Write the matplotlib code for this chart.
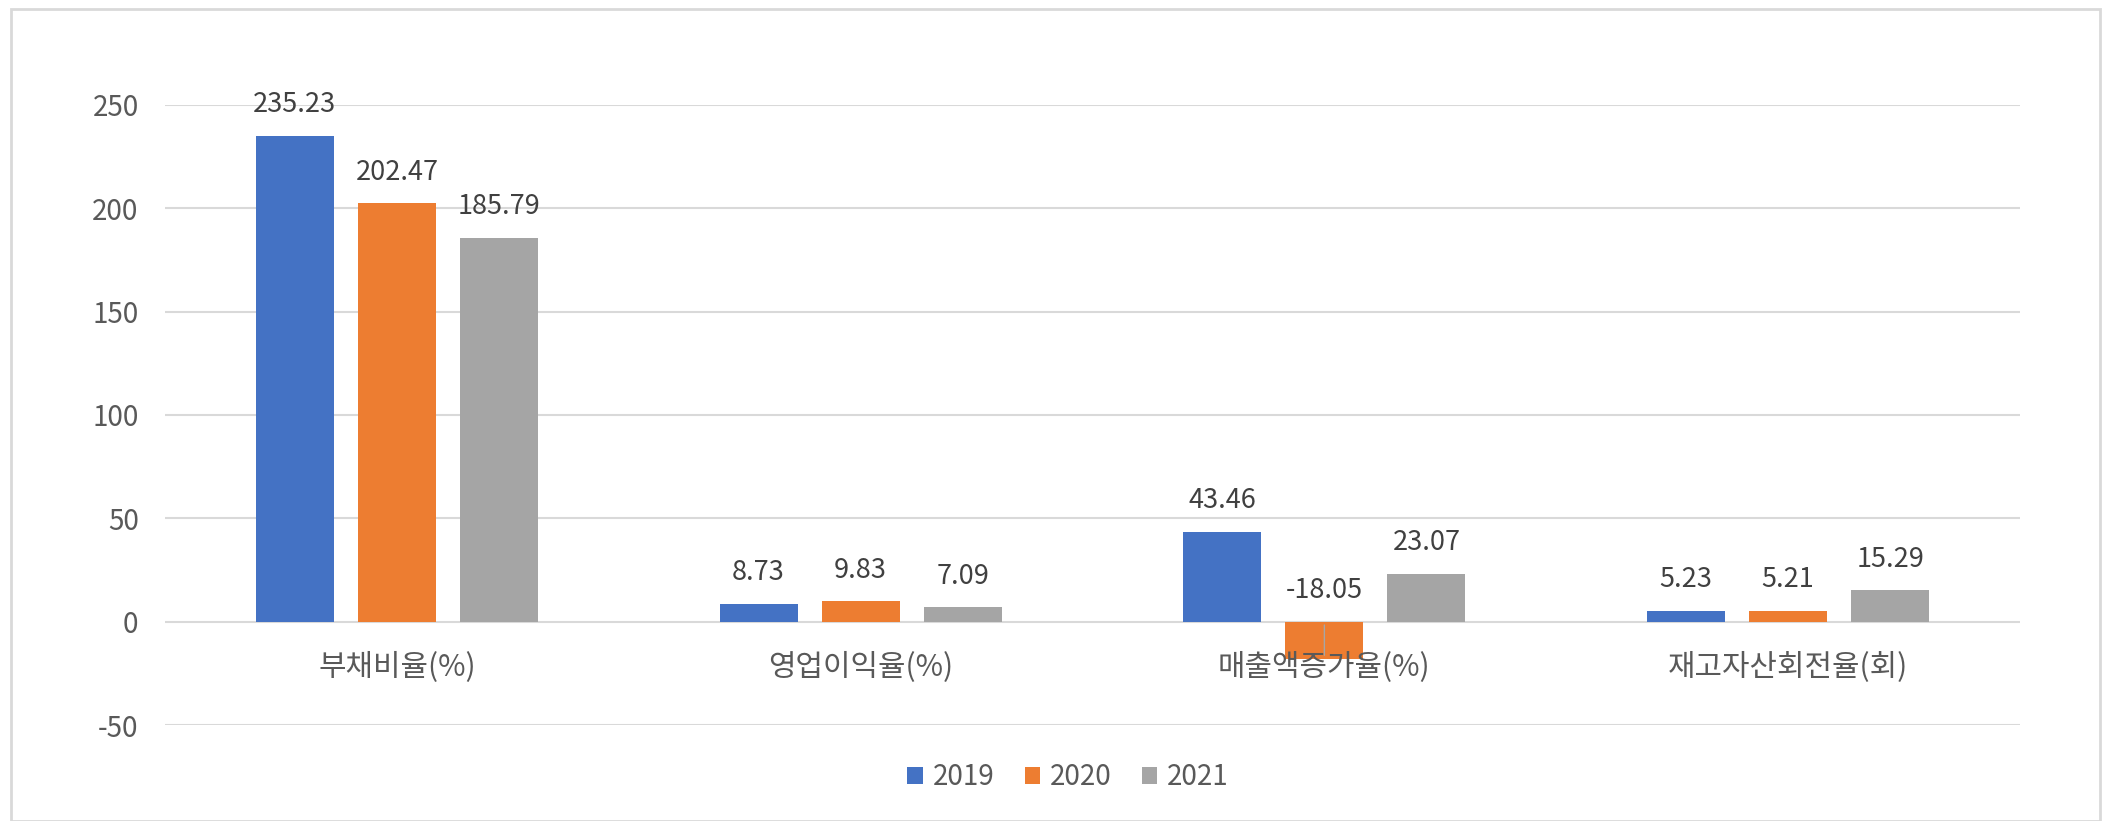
import matplotlib
matplotlib.use("Agg")
import matplotlib.pyplot as plt
from matplotlib.patches import Rectangle
import numpy as np

plt.rcParams['font.family'] = ['Noto Sans CJK KR', 'DejaVu Sans']
plt.rcParams['axes.unicode_minus'] = False

categories = ["부채비율(%)", "영업이익율(%)", "매출액증가율(%)", "재고자산회전율(회)"]
years = ["2019", "2020", "2021"]
v2019 = [235.23, 8.73, 43.46, 5.23]
v2020 = [202.47, 9.83, -18.05, 5.21]
v2021 = [185.79, 7.09, 23.07, 15.29]
colors = ["#4472C4", "#ED7D31", "#A5A5A5"]
yticks = [-50, 0, 50, 100, 150, 200, 250]

txt = "#595959"
grid = "#D9D9D9"

fig = plt.figure(figsize=(21.05, 8.21), dpi=100)
fig.patches.append(Rectangle((11 / 2105, 0), (2100 - 11) / 2105, 1 - 9 / 821,
                             transform=fig.transFigure, fill=False,
                             edgecolor=grid, linewidth=2))

ax = fig.add_axes([165 / 2105, 96 / 821, (2020 - 165) / 2105, (725 - 105) / 821])

x = np.arange(len(categories))
width = 0.168
step = 0.22
for i, (vals, c, yr) in enumerate(zip([v2019, v2020, v2021], colors, years)):
    xs = x + (i - 1) * step
    ax.bar(xs, vals, width, color=c, label=yr, zorder=3)
    for xx, v in zip(xs, vals):
        if v >= 0:
            ax.annotate(f"{v:.2f}", (xx, v), xytext=(0, 31), textcoords="offset pixels",
                        ha="center", va="center", fontsize=19.5, color="#404040")
        else:
            ax.annotate(f"{v:.2f}", (xx, v * 0.9), xytext=(xx, 15),
                        textcoords="data", ha="center", va="center",
                        fontsize=19.5, color="#404040",
                        arrowprops=dict(arrowstyle="-", color="#A6A6A6", lw=1,
                                        shrinkA=13, shrinkB=0))

for xx, name in zip(x, categories):
    ax.annotate(name, (xx, 0), xytext=(0, -46), textcoords="offset pixels",
                ha="center", va="center", fontsize=21.5, color=txt)

ax.set_xlim(-0.5, len(categories) - 0.5)
ax.set_ylim(-50, 250)
ax.set_yticks(yticks)
ax.set_xticks([])
ax.tick_params(axis="y", length=0, pad=19, labelsize=20, labelcolor=txt)
ax.grid(axis="y", color=grid, linewidth=1.5, zorder=0)
for s in ax.spines.values():
    s.set_visible(False)

fig.legend(loc="center", bbox_to_anchor=(1068 / 2105, 1 - 777 / 821), ncol=3,
           frameon=False, fontsize=20, labelcolor=txt, handlelength=0.55,
           handleheight=0.55, handletextpad=0.35, columnspacing=1.1)

fig.savefig("out.png", dpi=100)
